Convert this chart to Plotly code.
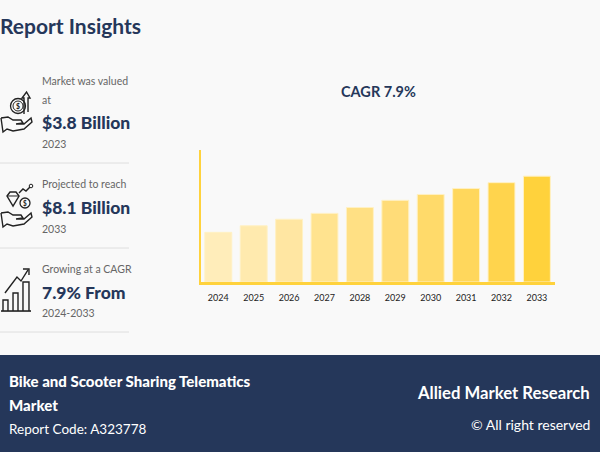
import plotly.graph_objects as go

years = ["2024", "2025", "2026", "2027", "2028", "2029", "2030", "2031", "2032", "2033"]
market_size = [3.8, 4.3, 4.8, 5.25, 5.7, 6.25, 6.7, 7.15, 7.6, 8.1]
bar_colors = ["#FFEDBA", "#FFEAAE", "#FFE6A2", "#FFE38F", "#FFE084", "#FFDC78",
              "#FFDA6A", "#FFD75C", "#FFD44D", "#FFD23C"]

NAVY = "#25375A"
GREY = "#666666"
FONT = "Lato"
W, H = 600, 452


def px(x):
    return x / W


def py(y):
    return 1 - y / H


def path(points, closed=False):
    d = "M" + " L".join(f"{px(x):.4f},{py(y):.4f}" for x, y in points)
    return d + (" Z" if closed else "")


def stroke(points, width=1.4, closed=False, fill="rgba(0,0,0,0)"):
    return dict(type="path", xref="paper", yref="paper", path=path(points, closed),
                line=dict(color="#222222", width=width), fillcolor=fill, layer="above")


def circle(cx, cy, r, width=1.3):
    return dict(type="circle", xref="paper", yref="paper", x0=px(cx - r), x1=px(cx + r),
                y0=py(cy + r), y1=py(cy - r), line=dict(color="#222222", width=width),
                fillcolor="rgba(0,0,0,0)", layer="above")


def hand(dx, dy):
    pts = [(1, 118), (8, 117), (13, 120), (21, 120), (23, 123), (16, 124), (24, 124),
           (31, 118), (32, 122), (24, 129), (13, 131), (7, 129), (3, 132), (1, 118)]
    return stroke([(x + dx, y + dy) for x, y in pts])


fig = go.Figure(
    go.Bar(x=years, y=market_size, marker=dict(color=bar_colors, line=dict(color="#FFF1C4", width=1))))

shapes = [
    # footer band
    dict(type="rect", xref="paper", yref="paper", x0=0, x1=1, y0=0, y1=py(355),
         fillcolor=NAVY, line=dict(width=0), layer="below"),
]
# separators on the left panel
for sep_y in [163, 248, 332]:
    shapes.append(dict(type="line", xref="paper", yref="paper", x0=0, x1=px(129),
                       y0=py(sep_y), y1=py(sep_y), line=dict(color="#DEDEDE", width=1)))

# icon 1: coin and arrow over a hand
shapes += [circle(18, 106, 7.5), circle(18, 106, 5, 1), hand(0, 0),
           stroke([(24, 114), (24, 98), (22, 98), (26.5, 92), (30, 98), (28, 98), (28, 112)])]
# icon 2: diamond, coin, trend over a hand
shapes += [stroke([(7, 196), (10, 192), (16, 192), (19, 196), (13, 206)], closed=True),
           stroke([(7, 196), (19, 196)], width=1),
           circle(25, 203, 5), hand(0, 95),
           stroke([(19, 193), (23, 189), (26, 191), (30, 187)]), circle(31, 186, 1.8, 1)]
# icon 3: bars and trend line
shapes += [stroke([(1, 311), (31, 311)], width=1.6),
           stroke([(3, 311), (3, 300), (8, 300), (8, 311)]),
           stroke([(13, 311), (13, 293), (18, 293), (18, 311)]),
           stroke([(23, 311), (23, 282), (29, 282), (29, 311)]),
           stroke([(5, 293), (17, 277), (21, 281), (28, 270)]),
           stroke([(23, 269), (29, 269), (29, 275)])]


def label(text, x, y, size, color, weight=400, anchor="left"):
    # annotations carry about 2px of padding, so nudge them back to the wanted edge
    nudge = {"left": -2, "right": 2, "center": 0}[anchor]
    return dict(text=text, x=px(x + nudge), y=py(y), xref="paper", yref="paper", showarrow=False,
                xanchor=anchor, yanchor="middle", align=anchor,
                font=dict(family=FONT, size=size, color=color, weight=weight))


annotations = [
    label("Report Insights", 0, 26, 21, NAVY, 700),
    label("Market was valued", 42, 81, 10.5, GREY),
    label("at", 42, 100, 10.5, GREY),
    label("$3.8 Billion", 42, 123, 17.5, NAVY, 900),
    label("2023", 42, 144, 10.5, GREY),
    label("Projected to reach", 42, 184, 10.5, GREY),
    label("$8.1 Billion", 42, 207, 17.5, NAVY, 900),
    label("2033", 42, 229, 10.5, GREY),
    label("Growing at a CAGR", 42, 269, 10.5, GREY),
    label("7.9% From", 42, 292, 17.5, NAVY, 900),
    label("2024-2033", 42, 313, 10.5, GREY),
    label("$", 18, 106, 7, "#222222", 700, "center"),
    label("$", 25, 203, 6.5, "#222222", 700, "center"),
    label("CAGR 7.9%", 378, 91, 14.5, NAVY, 700, "center"),
    label("Bike and Scooter Sharing Telematics", 9, 381, 15, "white", 900),
    label("Market", 9, 405, 15, "white", 900),
    label("Report Code: A323778", 9, 429, 13.5, "white"),
    label("Allied Market Research", 590, 393, 16.7, "white", 700, "right"),
    label("© All right reserved", 590, 424, 14, "white", 400, "right"),
]

fig.update_layout(
    width=W,
    height=H,
    margin=dict(l=0, r=0, t=0, b=0),
    paper_bgcolor="#F9F9F9",
    plot_bgcolor="#F9F9F9",
    showlegend=False,
    bargap=0.24,
    shapes=shapes,
    annotations=annotations,
    xaxis=dict(domain=[px(200.6), px(554.6)], type="category", range=[-0.5, 9.5], showgrid=False,
               showline=True, linecolor="#FFD23C", linewidth=3, ticks="outside", ticklen=5,
               tickcolor="rgba(0,0,0,0)", tickfont=dict(family=FONT, size=9, color="#222222")),
    yaxis=dict(domain=[py(282), py(150)], range=[0, 10.1], showgrid=False, zeroline=False,
               showticklabels=False, ticks="", showline=True, linecolor="#FFD23C", linewidth=2),
)

# page has a default body margin that would push the figure off the window
fig.write_html("out.html", config={"displayModeBar": False},
               post_script="document.body.style.margin = '0';")
